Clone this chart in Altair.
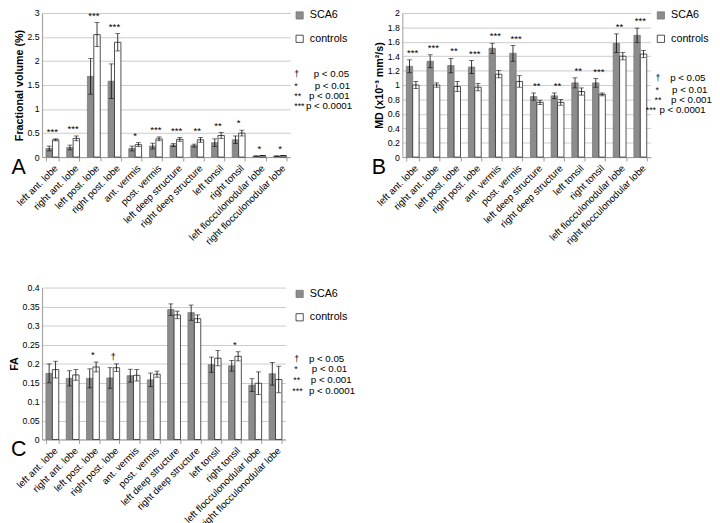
import altair as alt
import pandas as pd

FONT = "Liberation Sans"

categories = ["left ant. lobe", "right ant. lobe", "left post. lobe", "right post. lobe",
              "ant. vermis", "post. vermis", "left deep structure", "right deep structure",
              "left tonsil", "right tonsil", "left flocculonodular lobe", "right flocculonodular lobe"]
groups = ["SCA6", "controls"]

# Panel A: Fractional volume (%)
fv_sca6 = [0.18, 0.20, 1.68, 1.58, 0.18, 0.23, 0.25, 0.24, 0.30, 0.36, 0.02, 0.02]
fv_sca6_err = [0.05, 0.05, 0.37, 0.36, 0.05, 0.06, 0.03, 0.03, 0.08, 0.08, 0.005, 0.005]
fv_ctrl = [0.36, 0.39, 2.55, 2.39, 0.26, 0.38, 0.37, 0.36, 0.45, 0.50, 0.03, 0.03]
fv_ctrl_err = [0.02, 0.05, 0.25, 0.18, 0.04, 0.04, 0.04, 0.05, 0.06, 0.06, 0.005, 0.005]
fv_sig = ["***", "***", "***", "***", "*", "***", "***", "**", "**", "*", "*", "*"]
fv_ticks = [0, 0.5, 1, 1.5, 2, 2.5, 3]

# Panel B: MD
md_sca6 = [1.26, 1.33, 1.27, 1.25, 1.51, 1.44, 0.84, 0.85, 1.03, 1.03, 1.58, 1.69]
md_sca6_err = [0.09, 0.09, 0.10, 0.09, 0.07, 0.11, 0.05, 0.04, 0.07, 0.06, 0.13, 0.10]
md_ctrl = [1.00, 1.00, 0.98, 0.97, 1.15, 1.05, 0.76, 0.76, 0.91, 0.87, 1.40, 1.43]
md_ctrl_err = [0.05, 0.03, 0.07, 0.05, 0.05, 0.08, 0.03, 0.04, 0.05, 0.02, 0.05, 0.05]
md_sig = ["***", "***", "**", "***", "***", "***", "**", "**", "**", "***", "**", "***"]
md_ticks = [0, 0.2, 0.4, 0.6, 0.8, 1, 1.2, 1.4, 1.6, 1.8, 2]

# Panel C: FA
fa_sca6 = [0.174, 0.161, 0.161, 0.162, 0.168, 0.157, 0.342, 0.334, 0.197, 0.194, 0.143, 0.173]
fa_sca6_err = [0.025, 0.020, 0.025, 0.027, 0.017, 0.018, 0.015, 0.020, 0.020, 0.014, 0.017, 0.030]
fa_ctrl = [0.184, 0.170, 0.191, 0.189, 0.169, 0.172, 0.328, 0.318, 0.214, 0.219, 0.148, 0.158]
fa_ctrl_err = [0.022, 0.014, 0.013, 0.010, 0.015, 0.008, 0.010, 0.010, 0.020, 0.012, 0.030, 0.035]
fa_sig = ["", "", "*", "†", "", "", "", "", "", "*", "", ""]
fa_ticks = [0, 0.05, 0.1, 0.15, 0.2, 0.25, 0.3, 0.35, 0.4]

sig_symbols = ["†", "*", "**", "***"]
sig_texts = ["p < 0.05", "p < 0.01", "p < 0.001", "p < 0.0001"]


def build_panel(sca6, sca6_err, ctrl, ctrl_err, sig, ticks, ytitle, letter, W, H,
                legend_dx, legend_dy, sig_dx, sig_ys, sym_shift, p_offsets):
    rows = []
    for i, c in enumerate(categories):
        for g, v, e in (("SCA6", sca6[i], sca6_err[i]), ("controls", ctrl[i], ctrl_err[i])):
            rows.append({"cat": c, "grp": g, "val": v, "lo": v - e, "hi": v + e})
    df = pd.DataFrame(rows)
    tops = [max(sca6[i] + sca6_err[i], ctrl[i] + ctrl_err[i]) for i in range(len(categories))]
    sdf = pd.DataFrame({"cat": categories, "sig": sig, "top": tops})

    x = alt.X("cat:N", sort=categories,
              scale=alt.Scale(domain=categories, paddingInner=0.38, paddingOuter=0.19),
              axis=alt.Axis(title=None, labelAngle=-45, labelFontSize=10, labelFont=FONT,
                            labelColor="#000", tickBand="extent", tickSize=4, tickColor="#999",
                            domainColor="#999", labelPadding=2, labelOverlap=False, grid=False))
    yscale = alt.Scale(domain=[0, ticks[-1]], nice=False, zero=True)
    y = alt.Y("val:Q", scale=yscale,
              axis=alt.Axis(title=ytitle, values=ticks, tickCount=100, format="~g", grid=True,
                            gridColor="#bdbdbd", gridWidth=0.8, domainColor="#999",
                            tickSize=0, labelFontSize=9, labelFont=FONT, labelColor="#000",
                            labelOverlap=False, labelFlush=False,
                            titleFont=FONT, titleFontSize=11, titleFontWeight="bold",
                            titleColor="#000", titlePadding=3, labelPadding=3))
    xo = alt.XOffset("grp:N", sort=groups,
                     scale=alt.Scale(domain=groups, paddingInner=0, paddingOuter=0))
    leg = alt.Legend(title=None, orient="none", legendX=W + legend_dx, legendY=legend_dy,
                     symbolType="square", symbolSize=55, labelFontSize=11, labelFont=FONT,
                     labelColor="#000", rowPadding=12, labelOffset=5, padding=0,
                     symbolStrokeWidth=0.8)
    fill = alt.Fill("grp:N", sort=groups,
                    scale=alt.Scale(domain=groups, range=["#8c8c8c", "#ffffff"]), legend=leg)
    stroke = alt.Stroke("grp:N", sort=groups,
                        scale=alt.Scale(domain=groups, range=["#787878", "#222222"]), legend=leg)

    bars = alt.Chart(df).mark_bar(strokeWidth=0.8).encode(x=x, xOffset=xo, y=y, fill=fill, stroke=stroke)
    rules = alt.Chart(df).mark_rule(color="black", strokeWidth=0.8).encode(
        x=x, xOffset=xo, y=alt.Y("lo:Q", scale=yscale), y2="hi:Q")
    cap_hi = alt.Chart(df).mark_tick(color="black", thickness=0.8, size=5, orient="horizontal").encode(
        x=x, xOffset=xo, y=alt.Y("hi:Q", scale=yscale))
    cap_lo = alt.Chart(df).mark_tick(color="black", thickness=0.8, size=5, orient="horizontal").encode(
        x=x, xOffset=xo, y=alt.Y("lo:Q", scale=yscale))
    stars = alt.Chart(sdf).mark_text(baseline="bottom", dy=-2, fontSize=10, font=FONT, color="#000").encode(
        x=x, y=alt.Y("top:Q", scale=yscale), text="sig:N")
    letter_layer = alt.Chart(pd.DataFrame({"t": [letter]})).mark_text(
        fontSize=22, font=FONT, align="center", baseline="middle", color="#000").encode(
        x=alt.value(-24), y=alt.value(H + 10), text="t:N")

    layers = [bars, rules, cap_hi, cap_lo, stars, letter_layer]
    for k in range(4):
        xs = W + sig_dx
        layers.append(alt.Chart(pd.DataFrame({"t": [sig_symbols[k]]})).mark_text(
            align="left", baseline="middle", fontSize=9, font=FONT, color="#000").encode(
            x=alt.value(xs + sym_shift[k]), y=alt.value(sig_ys[k]), text="t:N"))
        layers.append(alt.Chart(pd.DataFrame({"t": [sig_texts[k]]})).mark_text(
            align="left", baseline="middle", fontSize=10, font=FONT, color="#000").encode(
            x=alt.value(xs + p_offsets[k]), y=alt.value(sig_ys[k]), text="t:N"))
    return alt.layer(*layers).properties(width=W, height=H)


A = build_panel(fv_sca6, fv_sca6_err, fv_ctrl, fv_ctrl_err, fv_sig, fv_ticks,
                "Fractional  volume (%)", "A", 255, 148, 4, -3, 4,
                [63, 75, 85, 96], [0, 0, 0, 0], [20, 21, 15, 12])
B = build_panel(md_sca6, md_sca6_err, md_ctrl, md_ctrl_err, md_sig, md_ticks,
                "MD (x10⁻³ mm²/s)", "B", 255, 148, 5, -3, 5,
                [67, 79, 89, 100], [0, 0, -1, -10], [15, 17, 16, 4])
C = build_panel(fa_sca6, fa_sca6_err, fa_ctrl, fa_ctrl_err, fa_sig, fa_ticks,
                "FA", "C", 250, 156, 9, 1, 9,
                [73, 84, 95, 106], [0, 0, -1, -2], [15, 18, 17, 15])

chart = alt.concat(A, B, C, columns=2, spacing={"row": 134, "column": 115},
                   bounds="flush").resolve_scale(
    fill="independent", stroke="independent").resolve_legend(
    fill="independent", stroke="independent").properties(
    padding={"left": 0, "top": -6, "right": 0, "bottom": 0}).configure_view(stroke=None)

chart.save("out.html", embed_options={"renderer": "svg", "actions": False})
